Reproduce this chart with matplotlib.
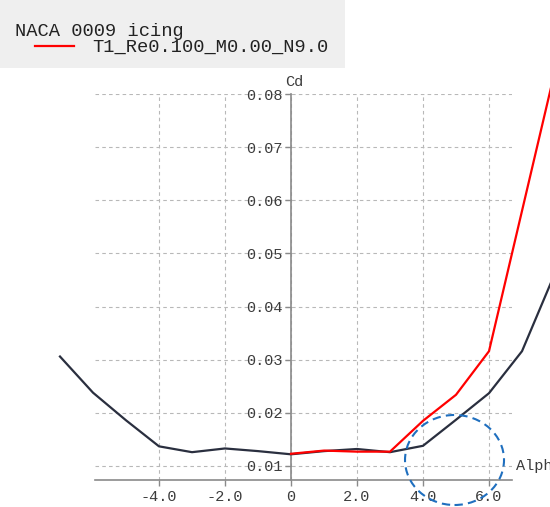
import matplotlib
matplotlib.use("Agg")
import matplotlib.pyplot as plt
from matplotlib.patches import Ellipse, Rectangle
from matplotlib.lines import Line2D
import matplotlib.transforms as mtransforms

# Drag polar, NACA 0009 (clean vs. iced)
alpha_clean = [-7, -6, -5, -4, -3, -2, -1, 0, 1, 2, 3, 4, 5, 6, 7, 8]
cd_clean = [0.0306, 0.0238, 0.0186, 0.0137, 0.0126, 0.0133, 0.0128, 0.0122,
            0.0128, 0.0132, 0.0126, 0.0138, 0.0187, 0.0237, 0.0316, 0.0463]

alpha_icing = [0, 1, 2, 3, 4, 5, 6, 7, 8]
cd_icing = [0.0123, 0.0129, 0.0127, 0.0127, 0.0185, 0.0234, 0.0316, 0.0580, 0.0844]

x_ticks = [-4, -2, 0, 2, 4, 6]
x_tick_labels = ["-4.0", "-2.0", "0", "2.0", "4.0", "6.0"]
y_ticks = [0.01, 0.02, 0.03, 0.04, 0.05, 0.06, 0.07, 0.08]
y_tick_labels = ["0.01", "0.02", "0.03", "0.04", "0.05", "0.06", "0.07", "0.08"]

plot_title = "NACA 0009 icing"
series_label = "T1_Re0.100_M0.00_N9.0"

MONO = ["Liberation Mono", "DejaVu Sans Mono"]
TXT = "#3c3c3c"
AXC = "#8a8a8a"

W, H = 550, 507
fig = plt.figure(figsize=(W / 100, H / 100), dpi=100)
fig.patch.set_facecolor("white")

# axes box in pixels: left 95, right 512, top 94, bottom 480
ax = fig.add_axes([95 / W, (H - 480) / H, (512 - 95) / W, (480 - 94) / H])
ax.set_facecolor("none")
ax.set_xlim(-5.939, 6.697)
ax.set_ylim(0.007365, 0.08)

for s in ("top", "right"):
    ax.spines[s].set_visible(False)
ax.spines["left"].set_position(("data", 0))
ax.spines["left"].set_color(AXC)
ax.spines["bottom"].set_color(AXC)
ax.spines["left"].set_linewidth(1.2)
ax.spines["bottom"].set_linewidth(1.2)

ax.set_xticks(x_ticks)
ax.set_xticklabels(x_tick_labels)
ax.set_yticks(y_ticks)
ax.set_yticklabels(y_tick_labels)
ax.tick_params(axis="both", colors=AXC, labelcolor=TXT, length=4, width=1.0,
               labelsize=11, pad=2)
ax.tick_params(axis="x", direction="out", pad=3)
for lab in ax.get_xticklabels() + ax.get_yticklabels():
    lab.set_fontfamily(MONO)

ax.grid(True, color="#b8b8b8", linestyle=(0, (3.2, 2.9)), linewidth=0.8)
ax.set_axisbelow(True)

ax.plot(alpha_clean, cd_clean, color="#2a2f3f", lw=1.6, clip_on=False, zorder=3)
ax.plot(alpha_icing, cd_icing, color="#ff0000", lw=1.6, clip_on=False, zorder=4)

# highlight around the drag rise
ax.add_patch(Ellipse((4.955, 0.01113), 3.0, 0.01694, fill=False,
                     edgecolor="#1f6fbf", lw=1.5, linestyle=(0, (4, 2.5)),
                     clip_on=False, zorder=5))

# axis captions
ax.annotate("Cd", xy=(0, 0.08), xytext=(-6, 12), textcoords="offset pixels",
            ha="left", va="center", fontsize=11, family=MONO, color=TXT,
            annotation_clip=False)
trans = mtransforms.blended_transform_factory(ax.transAxes, ax.transData)
ax.text(1.0096, 0.01, "Alpha", transform=trans, ha="left", va="center",
        fontsize=11, family=MONO, color=TXT, clip_on=False)

# legend block
fig.patches.append(Rectangle((0, 1 - 68 / H), 345 / W, 68 / H,
                             transform=fig.transFigure, facecolor="#efefef",
                             edgecolor="none", zorder=0))
fig.text(15 / W, 1 - 31 / H, plot_title, ha="left", va="center",
         fontsize=13.5, family=MONO, color="#222222")
fig.add_artist(Line2D([35 / W, 74 / W], [1 - 46 / H, 1 - 46 / H],
                      transform=fig.transFigure, color="#ff0000", lw=1.6))
fig.text(92 / W, 1 - 47 / H, series_label, ha="left", va="center",
         fontsize=13.5, family=MONO, color="#222222")

fig.savefig("out.png", dpi=100)
